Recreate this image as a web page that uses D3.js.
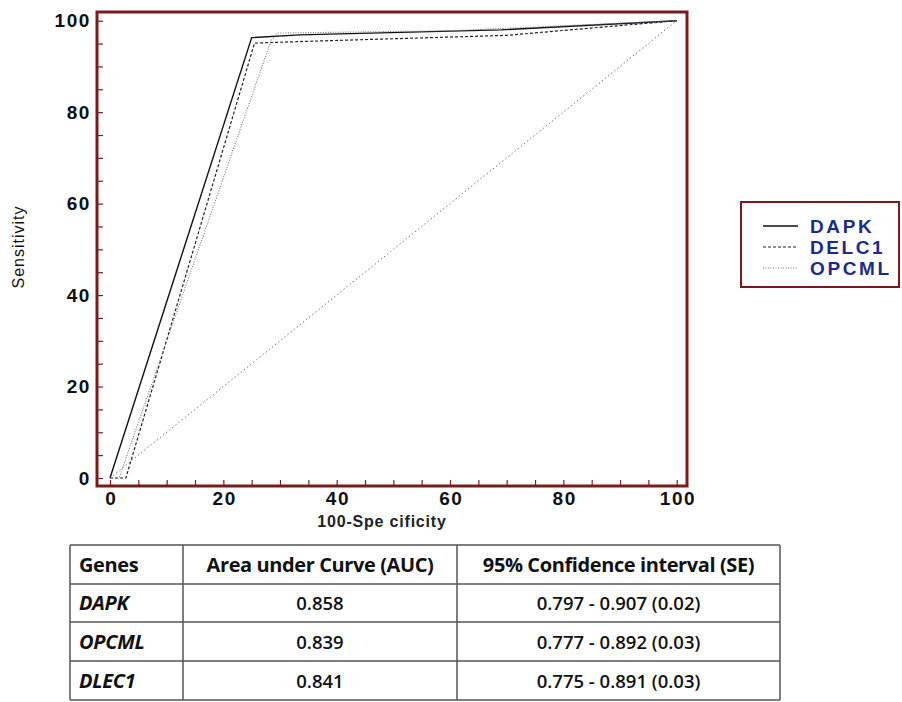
<!DOCTYPE html>
<html><head><meta charset="utf-8">
<script src="https://cdn.jsdelivr.net/npm/d3@7"></script>
<style>
body{margin:0;background:#fff;}
svg{display:block;}
</style></head>
<body>
<svg id="chart" width="902" height="702"></svg>
<script>
// ---- data ----
const seriesNames = ["DAPK", "DELC1", "OPCML"];
const dapkPoints = [[0,0],[25,96.3],[33.5,96.9],[69,98],[100,100]];
const dlec1Points = [[0,0],[2.8,0],[25.5,95.1],[35,95.5],[70,96.8],[100,100]];
const opcmlPoints = [[0,0],[1.6,0],[28.4,95.6],[29.5,97.3],[60,97.8],[100,100]];
const diagonalPoints = [[0,0],[100,100]];
const xTickLabels = [0,20,40,60,80,100];
const yTickLabels = [0,20,40,60,80,100];
const minorTicks = d3.range(0,101,5);
const tableHeader = ["Genes","Area under Curve (AUC)","95% Confidence interval (SE)"];
const tableGenes = ["DAPK","OPCML","DLEC1"];
const tableAUC = ["0.858","0.839","0.841"];
const tableCI = ["0.797 - 0.907 (0.02)","0.777 - 0.892 (0.03)","0.775 - 0.891 (0.03)"];

const svg = d3.select("#chart");
const frameColor = "#7a1b1b";
const x = d3.scaleLinear().domain([0,100]).range([110,676.7]);
const y = d3.scaleLinear().domain([0,100]).range([478,20.7]);
const frame = {l:97,t:12,r:687,b:486};
const arial = "Liberation Sans, Arial, sans-serif";

// frame
svg.append("rect").attr("x",frame.l).attr("y",frame.t)
  .attr("width",frame.r-frame.l).attr("height",frame.b-frame.t)
  .attr("fill","none").attr("stroke",frameColor).attr("stroke-width",3);

// minor ticks (inward)
const yTickAxis = d3.axisLeft(y).tickValues(minorTicks).tickSize(-6).tickFormat("");
const gy = svg.append("g").attr("transform",`translate(${frame.l},0)`).call(yTickAxis);
gy.select(".domain").remove();
gy.selectAll("line").attr("stroke",frameColor).attr("stroke-width",1.2);

const xTickAxis = d3.axisBottom(x).tickValues(minorTicks).tickSize(-6).tickFormat("");
const gx = svg.append("g").attr("transform",`translate(0,${frame.b})`).call(xTickAxis);
gx.select(".domain").remove();
gx.selectAll("line").attr("stroke",frameColor).attr("stroke-width",1.2);

// labels
const yLab = svg.append("g").attr("transform",`translate(${frame.l},0)`)
  .call(d3.axisLeft(y).tickValues(yTickLabels).tickSize(0).tickPadding(6));
yLab.select(".domain").remove();
yLab.selectAll("text").attr("font-family",arial)
  .attr("font-weight","bold").attr("font-size",19).attr("letter-spacing",1.6).attr("fill","#111");

const xLab = svg.append("g").attr("transform",`translate(0,${frame.b})`)
  .call(d3.axisBottom(x).tickValues(xTickLabels).tickSize(0).tickPadding(6));
xLab.select(".domain").remove();
xLab.selectAll("text").attr("font-family",arial).attr("dx",0.8)
  .attr("font-weight","bold").attr("font-size",19).attr("letter-spacing",1.6).attr("fill","#111");

// axis titles
svg.append("text").attr("x",382).attr("y",527).attr("text-anchor","middle")
  .attr("font-family",arial).attr("font-weight","bold").attr("letter-spacing",0.8)
  .attr("font-size",16).attr("fill","#222").text("100-Spe cificity");
svg.append("text").attr("transform","translate(24,247) rotate(-90)").attr("text-anchor","middle")
  .attr("font-family",arial).attr("letter-spacing",1)
  .attr("font-size",16).attr("fill","#111").text("Sensitivity");

// lines
const line = d3.line().x(d=>x(d[0])).y(d=>y(d[1]));
svg.append("path").datum(diagonalPoints).attr("d",line).attr("fill","none")
  .attr("stroke","#b06060").attr("stroke-width",1).attr("stroke-dasharray","1.5,2.5");
const styles = [
  {data:dapkPoints, color:"#111", w:1.4, dash:null},
  {data:dlec1Points, color:"#222", w:1.2, dash:"3,2"},
  {data:opcmlPoints, color:"#777", w:1.1, dash:"1,1.5"}
];
styles.forEach(s=>{
  svg.append("path").datum(s.data).attr("d",line).attr("fill","none")
    .attr("stroke",s.color).attr("stroke-width",s.w)
    .attr("stroke-dasharray",s.dash);
});

// legend
svg.append("rect").attr("x",741).attr("y",202).attr("width",158).attr("height",85)
  .attr("fill","#fff").attr("stroke",frameColor).attr("stroke-width",2);
const legendY = [226,247,268];
seriesNames.forEach((n,i)=>{
  const yy = legendY[i];
  svg.append("line").attr("x1",763).attr("x2",798).attr("y1",yy).attr("y2",yy)
    .attr("stroke",styles[i].color).attr("stroke-width",styles[i].w)
    .attr("stroke-dasharray",styles[i].dash);
  svg.append("text").attr("x",810).attr("y",yy+7)
    .attr("font-family",arial).attr("font-weight","bold")
    .attr("font-size",19).attr("fill","#1c2a8c").attr("letter-spacing",2.6).text(n);
});

// table
const colX = [70,183,457,780];
const rowY = [545,584,622,661,700];
const tg = svg.append("g");
const tColor = "#555";
rowY.forEach(yy=>tg.append("line").attr("x1",colX[0]).attr("x2",colX[3]).attr("y1",yy).attr("y2",yy)
  .attr("stroke",tColor).attr("stroke-width",1.5));
colX.forEach(xx=>tg.append("line").attr("x1",xx).attr("x2",xx).attr("y1",rowY[0]).attr("y2",rowY[4])
  .attr("stroke",tColor).attr("stroke-width",1.5));
const tfont = "'Open Sans', Lato, sans-serif";
tableHeader.forEach((h,i)=>{
  const cx = i===0 ? colX[0]+9 : (colX[i]+colX[i+1])/2;
  tg.append("text").attr("x",cx).attr("y",(rowY[0]+rowY[1])/2+7)
    .attr("text-anchor", i===0?"start":"middle")
    .attr("font-family",tfont).attr("font-weight","bold").attr("font-size",20)
    .attr("letter-spacing",-0.4).attr("fill","#111").text(h);
});
tableGenes.forEach((g,r)=>{
  const cy = (rowY[r+1]+rowY[r+2])/2+7;
  tg.append("text").attr("x",colX[0]+9).attr("y",cy)
    .attr("font-family",tfont).attr("font-weight","bold").attr("font-style","italic")
    .attr("font-size",20).attr("letter-spacing",-0.3).attr("fill","#111").text(g);
  tg.append("text").attr("x",(colX[1]+colX[2])/2).attr("y",cy).attr("text-anchor","middle")
    .attr("font-family",tfont).attr("font-weight",600).attr("font-size",18.5).attr("fill","#111").text(tableAUC[r]);
  tg.append("text").attr("x",(colX[2]+colX[3])/2).attr("y",cy).attr("text-anchor","middle")
    .attr("font-family",tfont).attr("font-weight",600).attr("font-size",18.5).attr("fill","#111").text(tableCI[r]);
});
</script>
</body></html>
